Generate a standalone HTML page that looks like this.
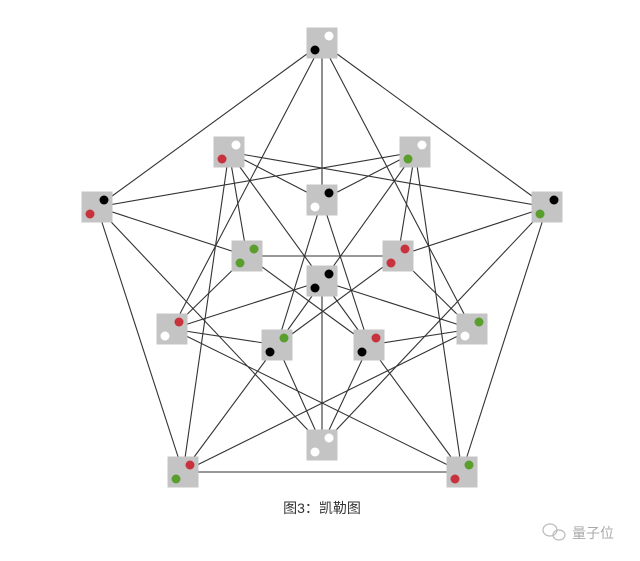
<!DOCTYPE html>
<html><head><meta charset="utf-8"><style>
html,body{margin:0;padding:0;background:#fff;}
body{width:640px;height:561px;position:relative;overflow:hidden;}
</style></head><body>
<svg width="640" height="561" style="position:absolute;left:0;top:0">
<g stroke="#333" stroke-width="1.1">
<!-- outer -->
<line x1="322" y1="43" x2="97" y2="207"/>
<line x1="322" y1="43" x2="547" y2="207"/>
<line x1="97" y1="207" x2="183" y2="472"/>
<line x1="547" y1="207" x2="462" y2="472"/>
<line x1="183" y1="472" x2="462" y2="472"/>
<line x1="322" y1="43" x2="172" y2="329"/>
<line x1="322" y1="43" x2="472" y2="329"/>
<line x1="322" y1="43" x2="322" y2="200"/>
<line x1="322" y1="281" x2="322" y2="445"/>
<!-- B / C -->
<line x1="229" y1="152" x2="547" y2="207"/>
<line x1="229" y1="152" x2="322" y2="200"/>
<line x1="229" y1="152" x2="247" y2="256"/>
<line x1="229" y1="152" x2="369" y2="345"/>
<line x1="229" y1="152" x2="183" y2="472"/>
<line x1="415" y1="152" x2="97" y2="207"/>
<line x1="415" y1="152" x2="322" y2="200"/>
<line x1="415" y1="152" x2="398" y2="256"/>
<line x1="415" y1="152" x2="277" y2="345"/>
<line x1="415" y1="152" x2="462" y2="472"/>
<!-- D / E -->
<line x1="97" y1="207" x2="247" y2="256"/>
<line x1="97" y1="207" x2="322" y2="445"/>
<line x1="547" y1="207" x2="398" y2="256"/>
<line x1="547" y1="207" x2="322" y2="445"/>
<!-- G H -->
<line x1="247" y1="256" x2="398" y2="256"/>
<line x1="247" y1="256" x2="369" y2="345"/>
<line x1="398" y1="256" x2="277" y2="345"/>
<!-- I -->
<line x1="322" y1="281" x2="172" y2="329"/>
<line x1="322" y1="281" x2="472" y2="329"/>
<!-- J K -->
<line x1="172" y1="329" x2="247" y2="256"/>
<line x1="172" y1="329" x2="277" y2="345"/>
<line x1="172" y1="329" x2="462" y2="472"/>
<line x1="472" y1="329" x2="398" y2="256"/>
<line x1="472" y1="329" x2="369" y2="345"/>
<line x1="472" y1="329" x2="183" y2="472"/>
<!-- L M -->
<line x1="277" y1="345" x2="183" y2="472"/>
<line x1="369" y1="345" x2="462" y2="472"/>
<line x1="277" y1="345" x2="322" y2="445"/>
<line x1="369" y1="345" x2="322" y2="445"/>
<line x1="322" y1="200" x2="277" y2="345"/>
<line x1="322" y1="200" x2="369" y2="345"/>
</g>
<g id="nodes">
<!-- helper: box 31x31 centered -->
<g fill="#c4c4c4">
<rect x="306.5" y="27.5" width="31" height="31"/>
<rect x="213.5" y="136.5" width="31" height="31"/>
<rect x="399.5" y="136.5" width="31" height="31"/>
<rect x="81.5" y="191.5" width="31" height="31"/>
<rect x="531.5" y="191.5" width="31" height="31"/>
<rect x="306.5" y="184.5" width="31" height="31"/>
<rect x="231.5" y="240.5" width="31" height="31"/>
<rect x="382.5" y="240.5" width="31" height="31"/>
<rect x="306.5" y="265.5" width="31" height="31"/>
<rect x="156.5" y="313.5" width="31" height="31"/>
<rect x="456.5" y="313.5" width="31" height="31"/>
<rect x="261.5" y="329.5" width="31" height="31"/>
<rect x="353.5" y="329.5" width="31" height="31"/>
<rect x="306.5" y="429.5" width="31" height="31"/>
<rect x="167.5" y="456.5" width="31" height="31"/>
<rect x="446.5" y="456.5" width="31" height="31"/>
</g>
<g>
<!-- A --><circle cx="329" cy="36" r="4.5" fill="#fff"/><circle cx="315" cy="50" r="4.5" fill="#000"/>
<!-- B --><circle cx="236" cy="145" r="4.5" fill="#fff"/><circle cx="222" cy="159" r="4.5" fill="#c8323c"/>
<!-- C --><circle cx="422" cy="145" r="4.5" fill="#fff"/><circle cx="408" cy="159" r="4.5" fill="#5a9e2e"/>
<!-- D --><circle cx="104" cy="200" r="4.5" fill="#000"/><circle cx="90" cy="214" r="4.5" fill="#c8323c"/>
<!-- E --><circle cx="554" cy="200" r="4.5" fill="#000"/><circle cx="540" cy="214" r="4.5" fill="#5a9e2e"/>
<!-- F --><circle cx="329" cy="193" r="4.5" fill="#000"/><circle cx="315" cy="207" r="4.5" fill="#fff"/>
<!-- G --><circle cx="254" cy="249" r="4.5" fill="#5a9e2e"/><circle cx="240" cy="263" r="4.5" fill="#5a9e2e"/>
<!-- H --><circle cx="405" cy="249" r="4.5" fill="#c8323c"/><circle cx="391" cy="263" r="4.5" fill="#c8323c"/>
<!-- I --><circle cx="329" cy="274" r="4.5" fill="#000"/><circle cx="315" cy="288" r="4.5" fill="#000"/>
<!-- J --><circle cx="179" cy="322" r="4.5" fill="#c8323c"/><circle cx="165" cy="336" r="4.5" fill="#fff"/>
<!-- K --><circle cx="479" cy="322" r="4.5" fill="#5a9e2e"/><circle cx="465" cy="336" r="4.5" fill="#fff"/>
<!-- L --><circle cx="284" cy="338" r="4.5" fill="#5a9e2e"/><circle cx="270" cy="352" r="4.5" fill="#000"/>
<!-- M --><circle cx="376" cy="338" r="4.5" fill="#c8323c"/><circle cx="362" cy="352" r="4.5" fill="#000"/>
<!-- N --><circle cx="329" cy="438" r="4.5" fill="#fff"/><circle cx="315" cy="452" r="4.5" fill="#fff"/>
<!-- O --><circle cx="190" cy="465" r="4.5" fill="#c8323c"/><circle cx="176" cy="479" r="4.5" fill="#5a9e2e"/>
<!-- P --><circle cx="469" cy="465" r="4.5" fill="#5a9e2e"/><circle cx="455" cy="479" r="4.5" fill="#c8323c"/>
</g>
</g>
<text x="322" y="513" text-anchor="middle" font-family="Liberation Sans, Noto Sans CJK SC, sans-serif" font-size="14" fill="#333">图3：凯勒图</text>
<g fill="none" stroke="#bbb" stroke-width="1.2">
<ellipse cx="550" cy="530" rx="7" ry="6"/>
<ellipse cx="559" cy="535" rx="6" ry="5"/>
</g>
<text x="572" y="538" font-family="Liberation Sans, Noto Sans CJK SC, sans-serif" font-size="14" fill="#aaa">量子位</text>
</svg>
</body></html>
